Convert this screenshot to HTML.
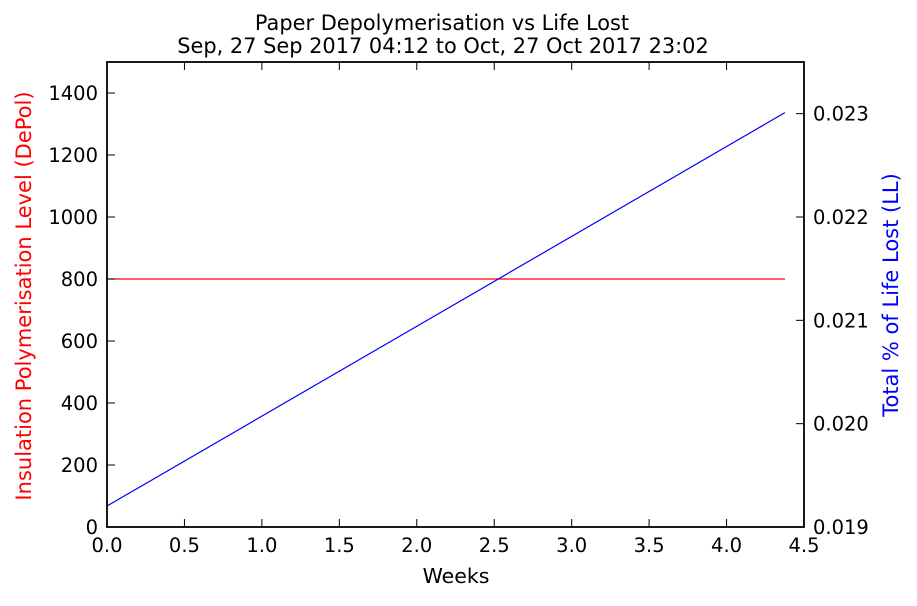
<!DOCTYPE html>
<html><head><meta charset="utf-8"><style>
body{margin:0;background:#fff;}
svg text{font-family:"DejaVu Sans",sans-serif;}
</style></head><body>
<svg id="chart" width="917" height="601" xmlns="http://www.w3.org/2000/svg"></svg>
<script>
const xTicks=[0,0.5,1,1.5,2,2.5,3,3.5,4,4.5];
const xTickLabels=["0.0","0.5","1.0","1.5","2.0","2.5","3.0","3.5","4.0","4.5"];
const yLeftTicks=[0,200,400,600,800,1000,1200,1400];
const yRightTicks=[0.019,0.020,0.021,0.022,0.023];
const yRightTickLabels=["0.019","0.020","0.021","0.022","0.023"];
const depolX=[0,4.377];
const depolY=[800,800];
const lifeLostX=[0,4.377];
const lifeLostY=[0.019203,0.02301];

const L=107,R=804,T=62,B=527;
const xs=v=>L+(v-0)/(4.5-0)*(R-L);
const yl=v=>B-(v-0)/(1500-0)*(B-T);
const yr=v=>B-(v-0.019)/(0.0235-0.019)*(B-T);
const svg=document.getElementById('chart');
const NS='http://www.w3.org/2000/svg';
function mk(tag,attrs,parent){const e=document.createElementNS(NS,tag);for(const k in attrs)e.setAttribute(k,attrs[k]);(parent||svg).appendChild(e);return e;}
function txt(s,attrs){const e=mk('text',attrs);e.textContent=s;return e;}

let t=txt('Paper Depolymerisation vs Life Lost',{x:442,y:30,'text-anchor':'middle','font-size':20.9});


t=txt('Sep, 27 Sep 2017 04:12 to Oct, 27 Oct 2017 23:02',{x:443,y:53,'text-anchor':'middle','font-size':20.9});



let p=mk('polyline',{points:depolX.map((x,i)=>xs(x)+','+yl(depolY[i])).join(' '),fill:'none',stroke:'#f00','stroke-width':1.2});


p=mk('polyline',{points:lifeLostX.map((x,i)=>xs(x)+','+yr(lifeLostY[i])).join(' '),fill:'none',stroke:'#00f','stroke-width':1.2});



let f=mk('rect',{x:L,y:T,width:R-L,height:B-T,fill:'none',stroke:'#000','stroke-width':1.8});



xTicks.forEach((v,i)=>{const x=xs(v);
 mk('line',{x1:x,y1:B,x2:x,y2:B-8,stroke:'#000'});
 mk('line',{x1:x,y1:T,x2:x,y2:T+8,stroke:'#000'});
 const e=txt(xTickLabels[i],{x:x,y:552,'text-anchor':'middle','font-size':19.5});
 
 
});
yLeftTicks.forEach(v=>{const y=yl(v);
 mk('line',{x1:L,y1:y,x2:L+8,y2:y,stroke:'#000'});
 const e=txt(String(v),{x:L-9,y:y+7,'text-anchor':'end','font-size':19.5});
 
 
});
yRightTicks.forEach((v,i)=>{const y=yr(v);
 mk('line',{x1:R,y1:y,x2:R-8,y2:y,stroke:'#000'});
 const e=txt(yRightTickLabels[i],{x:R+9,y:y+7,'text-anchor':'start','font-size':19.5});
 
 
});

t=txt('Weeks',{x:456,y:583,'text-anchor':'middle','font-size':20.5});


t=txt('Insulation Polymerisation Level (DePol)',{x:0,y:0,'text-anchor':'middle','font-size':21,fill:'#f00',transform:'translate(31,296) rotate(-90)'});


t=txt('Total % of Life Lost (LL)',{x:0,y:0,'text-anchor':'middle','font-size':21,fill:'#00f',transform:'translate(898,295) rotate(-90)'});


</script>
</body></html>
